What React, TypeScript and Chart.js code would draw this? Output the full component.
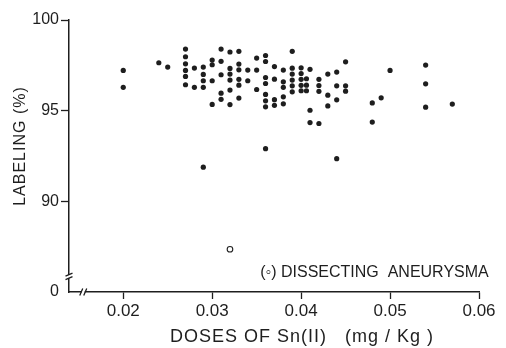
import React, { useEffect, useRef } from "react";
import { Chart, registerables } from "chart.js";

Chart.register(...registerables);

// Filled dots: dose of Sn(II) (mg/kg) and labeling efficiency (%)
const doseMgKg = [
  0.020, 0.020,
  0.024, 0.025,
  0.027, 0.027, 0.027, 0.027, 0.027, 0.027,
  0.028, 0.028,
  0.029, 0.029, 0.029, 0.029,
  0.030, 0.030, 0.030, 0.030,
  0.031, 0.031, 0.031, 0.031, 0.031,
  0.032, 0.032, 0.032, 0.032, 0.032, 0.032,
  0.033, 0.033, 0.033, 0.033, 0.033, 0.033,
  0.034, 0.034,
  0.035, 0.035, 0.035,
  0.036, 0.036, 0.036, 0.036, 0.036, 0.036, 0.036, 0.036,
  0.037, 0.037, 0.037, 0.037,
  0.038, 0.038, 0.038, 0.038, 0.038,
  0.039, 0.039, 0.039, 0.039, 0.039, 0.039,
  0.040, 0.040, 0.040, 0.040, 0.040,
  0.0406, 0.0406, 0.0406,
  0.041, 0.041, 0.041,
  0.042, 0.042, 0.042, 0.042,
  0.043, 0.043, 0.043,
  0.044, 0.044, 0.044, 0.044,
  0.045, 0.045, 0.045,
  0.048, 0.048,
  0.049,
  0.050,
  0.054, 0.054, 0.054,
  0.057,
  0.029,
];

const labelingPct = [
  97.23, 96.30,
  97.65, 97.41,
  98.40, 97.98, 97.59, 97.23, 96.90, 96.44,
  97.36, 96.30,
  97.41, 97.01, 96.66, 96.30,
  97.80, 97.54, 96.66, 95.36,
  98.40, 97.73, 96.99, 95.98, 95.64,
  98.24, 97.34, 97.03, 96.70, 96.15, 95.35,
  98.28, 97.58, 97.26, 96.74, 96.42, 95.71,
  97.25, 96.66,
  97.91, 97.25, 96.18,
  98.05, 97.72, 96.84, 96.51, 95.91, 95.56, 95.23, 92.93,
  97.44, 96.75, 95.62, 95.31,
  97.25, 96.60, 96.30, 95.78, 95.39,
  98.28, 97.35, 97.03, 96.70, 96.38, 96.05,
  97.37, 97.06, 96.74, 96.41, 96.11,
  96.77, 96.42, 96.11,
  97.29, 95.04, 94.36,
  96.74, 96.40, 96.08, 94.31,
  97.03, 95.87, 95.28,
  97.14, 96.38, 95.61, 92.38,
  97.70, 96.38, 96.09,
  95.44, 94.39,
  95.72,
  97.23,
  97.52, 96.49, 95.21,
  95.38,
  91.91,
];

// Open circle: dissecting aneurysma
const aneurysmaDose = [0.032];
const aneurysmaLabeling = [87.4];

// Axes
const xTickValues = [0.02, 0.03, 0.04, 0.05, 0.06];
const yTickValues = [90, 95, 100];
const X_MIN = 0.0139;
const X_MAX = 0.06;
const Y_MIN = 85.05;
const Y_MAX = 100;
const originLabel = "0";
const xBreakValue = 0.0155;
const yBreakValue = 85.9;

const yAxisTitle = "LABELING (%)";
const xAxisTitle = "DOSES OF Sn(II)   (mg / Kg )";
const noteText = "(\u25E6) DISSECTING  ANEURYSMA";
const noteAt = { x: 0.0354, y: 86.13 };

const INK = "#1e1e1e";
const FONT = "'Liberation Sans', Arial, sans-serif";

const decorPlugin = {
  id: "decor",
  afterDraw(chart: any) {
    const ctx = chart.ctx as CanvasRenderingContext2D;
    const xs = chart.scales.x;
    const ys = chart.scales.y;
    ctx.save();

    // axis break marks
    const axX = chart.chartArea.left;
    const by = ys.getPixelForValue(yBreakValue);
    ctx.fillStyle = "#fff";
    ctx.fillRect(axX - 2, by - 1.5, 4, 3);
    ctx.strokeStyle = INK;
    ctx.lineWidth = 1.3;
    ctx.beginPath();
    ctx.moveTo(axX - 3.5, by - 0.5);
    ctx.lineTo(axX + 3.5, by - 3.5);
    ctx.moveTo(axX - 3.5, by + 3);
    ctx.lineTo(axX + 3.5, by);
    ctx.stroke();

    const axY = chart.chartArea.bottom;
    const bx = xs.getPixelForValue(xBreakValue);
    ctx.fillStyle = "#fff";
    ctx.fillRect(bx - 1.5, axY - 2, 3, 4);
    ctx.beginPath();
    ctx.moveTo(bx - 3.5, axY + 3.5);
    ctx.lineTo(bx - 0.5, axY - 3.5);
    ctx.moveTo(bx + 0.5, axY + 3.5);
    ctx.lineTo(bx + 3.5, axY - 3.5);
    ctx.stroke();

    // axis titles
    ctx.fillStyle = INK;
    ctx.textBaseline = "middle";
    (ctx as any).letterSpacing = "1px";
    ctx.font = `16px ${FONT}`;
    ctx.save();
    ctx.translate(21, (chart.chartArea.top + chart.chartArea.bottom) / 2 - 10);
    ctx.rotate(-Math.PI / 2);
    ctx.textAlign = "center";
    ctx.fillText(yAxisTitle, 0, 0);
    ctx.restore();

    ctx.font = `18px ${FONT}`;
    ctx.textAlign = "left";
    ctx.fillText(xAxisTitle, 170, 337);

    // note
    (ctx as any).letterSpacing = "0px";
    ctx.font = `16px ${FONT}`;
    ctx.textAlign = "left";
    ctx.fillText(noteText, xs.getPixelForValue(noteAt.x), ys.getPixelForValue(noteAt.y));
    ctx.restore();
  },
};

export default function App() {
  const ref = useRef<HTMLCanvasElement>(null);

  useEffect(() => {
    if (!ref.current) return;
    const filled = doseMgKg.map((d, i) => ({ x: d, y: labelingPct[i] }));
    const open = aneurysmaDose.map((d, i) => ({ x: d, y: aneurysmaLabeling[i] }));
    const chart = new Chart(ref.current, {
      type: "scatter",
      data: {
        datasets: [
          {
            data: filled,
            pointRadius: 2.6,
            pointBackgroundColor: INK,
            pointBorderWidth: 0,
          },
          {
            data: open,
            pointRadius: 2.8,
            pointBackgroundColor: "#fff",
            pointBorderColor: INK,
            pointBorderWidth: 1.1,
          },
        ],
      },
      options: {
        animation: false,
        responsive: false,
        events: [],
        layout: { padding: { left: 0, right: 27, top: 20, bottom: 0 } },
        plugins: { legend: { display: false }, tooltip: { enabled: false } },
        scales: {
          x: {
            type: "linear",
            min: X_MIN,
            max: X_MAX,
            afterFit: (s: any) => {
              s.height = 56;
            },
            afterBuildTicks: (s: any) => {
              s.ticks = xTickValues.map((v) => ({ value: v }));
            },
            ticks: {
              autoSkip: false,
              maxRotation: 0,
              padding: 2,
              color: INK,
              font: { family: FONT, size: 17 },
              callback: (v: any) => Number(v).toFixed(2),
            },
            grid: {
              display: true,
              drawOnChartArea: false,
              drawTicks: true,
              tickLength: 7,
              tickColor: INK,
              tickWidth: 1.3,
            },
            border: { display: true, color: INK, width: 1.5 },
          },
          y: {
            type: "linear",
            min: Y_MIN,
            max: Y_MAX,
            afterFit: (s: any) => {
              s.width = 69;
            },
            afterBuildTicks: (s: any) => {
              s.ticks = [Y_MIN, ...yTickValues].map((v) => ({ value: v }));
            },
            ticks: {
              autoSkip: false,
              padding: 2,
              color: INK,
              font: { family: FONT, size: 16 },
              callback: (v: any) => (Number(v) === Y_MIN ? originLabel : String(v)),
            },
            grid: {
              display: true,
              drawOnChartArea: false,
              drawTicks: true,
              tickLength: 8,
              tickColor: (c: any) => (c.tick && c.tick.value === Y_MIN ? "rgba(0,0,0,0)" : INK),
              tickWidth: 1.3,
            },
            border: { display: true, color: INK, width: 1.5 },
          },
        },
      },
      plugins: [decorPlugin],
    });
    return () => chart.destroy();
  }, []);

  return (
    <div style={{ position: "absolute", left: 0, top: 0, width: 506, height: 348, background: "#fff" }}>
      <canvas ref={ref} width={506} height={348} style={{ display: "block", width: 506, height: 348 }} />
    </div>
  );
}
